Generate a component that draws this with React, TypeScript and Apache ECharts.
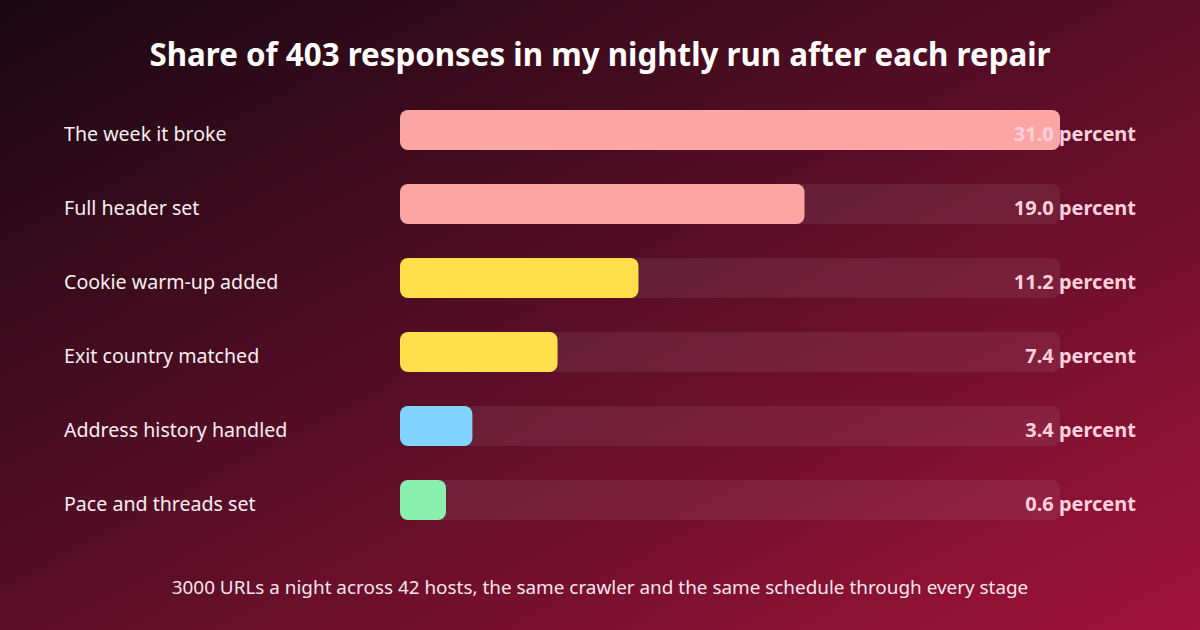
import React, { useEffect, useRef } from "react";
import * as echarts from "echarts";

const titleText = "Share of 403 responses in my nightly run after each repair";
const footerText =
  "3000 URLs a night across 42 hosts, the same crawler and the same schedule through every stage";
const categories = [
  "The week it broke",
  "Full header set",
  "Cookie warm-up added",
  "Exit country matched",
  "Address history handled",
  "Pace and threads set",
];
const values = [31.0, 19.0, 11.2, 7.4, 3.4, 0.6];
const barColors = ["#fba5a5", "#fba5a5", "#ffe04b", "#ffe04b", "#80d4ff", "#8af0b0"];
const unit = "percent";
const axisMax = 31;

const FONT = "'Noto Sans', 'Open Sans', sans-serif";

export default function App() {
  const ref = useRef<HTMLDivElement>(null);
  useEffect(() => {
    document.body.style.margin = "0";
    const chart = echarts.init(ref.current!, null, { renderer: "svg" });
    chart.setOption({
      animation: false,
      backgroundColor: new echarts.graphic.LinearGradient(0, 0, 1, 1, [
        { offset: 0, color: "#180810" },
        { offset: 0.5, color: "#5a0e27" },
        { offset: 1, color: "#a0133b" },
      ]),
      textStyle: { fontFamily: FONT },
      title: [
        {
          text: titleText,
          left: "center",
          top: 33,
          textStyle: { color: "#ffffff", fontSize: 31.3, fontWeight: "bold", fontFamily: FONT },
        },
        {
          text: footerText,
          left: "center",
          top: 572,
          textStyle: { color: "#f3e6ea", fontSize: 18.9, fontWeight: "normal", fontFamily: FONT },
        },
      ],
      grid: { left: 400, right: 140, top: 93, bottom: 93, containLabel: false },
      xAxis: { type: "value", min: 0, max: axisMax, show: false },
      yAxis: {
        type: "category",
        inverse: true,
        data: categories,
        axisLine: { show: false },
        axisTick: { show: false },
        axisLabel: { show: false },
      },
      series: [
        {
          type: "bar",
          barWidth: 40,
          barMinHeight: 46,
          showBackground: true,
          backgroundStyle: { color: "rgba(255,255,255,0.07)", borderRadius: 8 },
          data: values.map((v, i) => ({
            value: v,
            itemStyle: { color: barColors[i], borderRadius: 8 },
          })),
          label: {
            show: true,
            position: [736, 23],
            align: "right",
            verticalAlign: "middle",
            color: "#ffd0dc",
            fontSize: 20,
            fontWeight: "bold",
            fontFamily: FONT,
            formatter: (p: any) => `${values[p.dataIndex].toFixed(1)} ${unit}`,
          },
        },
        {
          type: "bar",
          barWidth: 40,
          barGap: "-100%",
          barMinHeight: 46,
          silent: true,
          itemStyle: { color: "rgba(0,0,0,0)" },
          data: values,
          label: {
            show: true,
            position: [-336, 23],
            align: "left",
            verticalAlign: "middle",
            color: "#f6eef1",
            fontSize: 19.6,
            fontFamily: FONT,
            formatter: (p: any) => categories[p.dataIndex],
          },
        },
      ],
    });
    return () => chart.dispose();
  }, []);
  return <div ref={ref} style={{ width: 1200, height: 630 }} />;
}
